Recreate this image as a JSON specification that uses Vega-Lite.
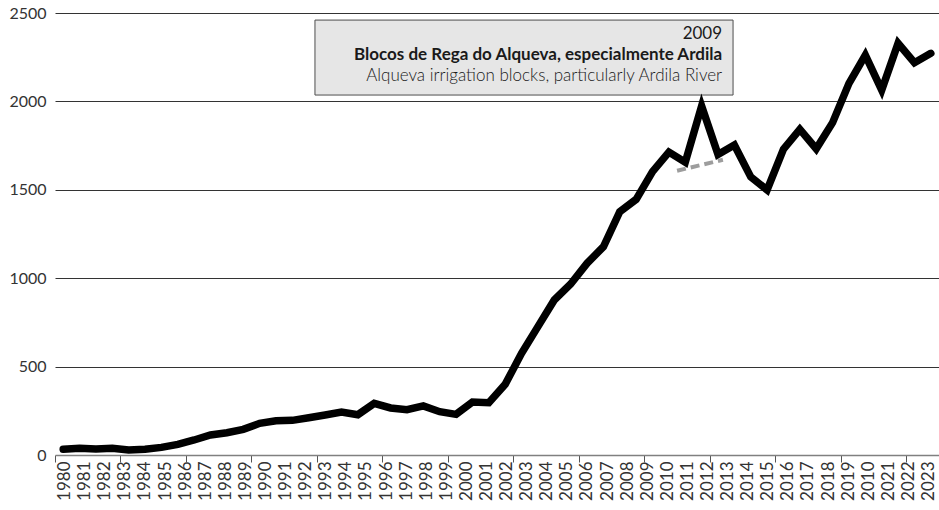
{
  "$schema": "https://vega.github.io/schema/vega-lite/v6.json",
  "width": 884,
  "height": 442,
  "autosize": {"type": "none"},
  "padding": {"left": 55, "top": 13, "right": 0, "bottom": 55},
  "background": "white",
  "config": {"view": {"stroke": null}, "font": "Lato"},
  "resolve": {"scale": {"x": "independent"}, "axis": {"x": "independent"}},
  "layer": [
    {
      "data": {"values": [
        {"year": "1980"}, {"year": "1981"}, {"year": "1982"}, {"year": "1983"}, {"year": "1984"},
        {"year": "1985"}, {"year": "1986"}, {"year": "1987"}, {"year": "1988"}, {"year": "1989"},
        {"year": "1990"}, {"year": "1991"}, {"year": "1992"}, {"year": "1993"}, {"year": "1994"},
        {"year": "1995"}, {"year": "1996"}, {"year": "1997"}, {"year": "1998"}, {"year": "1999"},
        {"year": "2000"}, {"year": "2001"}, {"year": "2002"}, {"year": "2003"}, {"year": "2004"},
        {"year": "2005"}, {"year": "2006"}, {"year": "2007"}, {"year": "2008"}, {"year": "2009"},
        {"year": "2010"}, {"year": "2011"}, {"year": "2012"}, {"year": "2013"}, {"year": "2014"},
        {"year": "2015"}, {"year": "2016"}, {"year": "2017"}, {"year": "2018"}, {"year": "2019"},
        {"year": "2020"}, {"year": "2021"}, {"year": "2022"}, {"year": "2023"}
      ]},
      "mark": {"type": "tick", "opacity": 0},
      "encoding": {
        "x": {
          "field": "year", "type": "ordinal",
          "scale": {"type": "band", "paddingInner": 0, "paddingOuter": 0},
          "axis": {
            "orient": "bottom", "title": null, "labelAngle": -90, "ticks": false, "domain": false,
            "grid": false, "labelPadding": 6, "labelFontSize": 17, "labelColor": "#333333",
            "labelOverlap": false,
            "labelExpr": "datum.value == '2020' ? '2010' : datum.label"
          }
        }
      }
    },
    {
      "layer": [
        {
          "data": {"values": [{"x": 15.38, "x2": 40.92, "y": 2460, "y2": 2036}]},
          "mark": {"type": "rect", "fill": "#e6e6e6", "stroke": "#4d4d4d", "strokeWidth": 1},
          "encoding": {
            "x": {"field": "x", "type": "quantitative"},
            "x2": {"field": "x2"},
            "y": {"field": "y", "type": "quantitative"},
            "y2": {"field": "y2"}
          }
        },
        {
          "data": {"values": [{"x": 40.25, "y": 2352, "t": "2009"}]},
          "mark": {"type": "text", "align": "right", "baseline": "alphabetic", "fontSize": 17, "color": "#1a1a1a"},
          "encoding": {
            "x": {"field": "x", "type": "quantitative"},
            "y": {"field": "y", "type": "quantitative"},
            "text": {"field": "t"}
          }
        },
        {
          "data": {"values": [{"x": 40.25, "y": 2232, "t": "Blocos de Rega do Alqueva, especialmente  Ardila"}]},
          "mark": {"type": "text", "align": "right", "baseline": "alphabetic", "fontSize": 17, "fontWeight": 700, "color": "#1a1a1a"},
          "encoding": {
            "x": {"field": "x", "type": "quantitative"},
            "y": {"field": "y", "type": "quantitative"},
            "text": {"field": "t"}
          }
        },
        {
          "data": {"values": [{"x": 40.25, "y": 2116, "t": "Alqueva irrigation blocks, particularly Ardila River"}]},
          "mark": {"type": "text", "align": "right", "baseline": "alphabetic", "fontSize": 17, "fontWeight": 300, "color": "#1a1a1a"},
          "encoding": {
            "x": {"field": "x", "type": "quantitative"},
            "y": {"field": "y", "type": "quantitative"},
            "text": {"field": "t"}
          }
        },
        {
          "data": {"values": [{"i": 37.5, "v": 1608}, {"i": 40.3, "v": 1670}]},
          "mark": {"type": "line", "color": "#9d9d9d", "strokeWidth": 4, "strokeDash": [9, 5]},
          "encoding": {
            "x": {"field": "i", "type": "quantitative"},
            "y": {"field": "v", "type": "quantitative"}
          }
        },
        {
          "data": {"values": [
            {"i": 0, "v": 32}, {"i": 1, "v": 38}, {"i": 2, "v": 34}, {"i": 3, "v": 38}, {"i": 4, "v": 28},
            {"i": 5, "v": 32}, {"i": 6, "v": 43}, {"i": 7, "v": 60}, {"i": 8, "v": 85}, {"i": 9, "v": 113},
            {"i": 10, "v": 126}, {"i": 11, "v": 145}, {"i": 12, "v": 179}, {"i": 13, "v": 194}, {"i": 14, "v": 196},
            {"i": 15, "v": 211}, {"i": 16, "v": 226}, {"i": 17, "v": 243}, {"i": 18, "v": 228}, {"i": 19, "v": 292},
            {"i": 20, "v": 266}, {"i": 21, "v": 256}, {"i": 22, "v": 278}, {"i": 23, "v": 245}, {"i": 24, "v": 230},
            {"i": 25, "v": 300}, {"i": 26, "v": 296}, {"i": 27, "v": 400}, {"i": 28, "v": 575}, {"i": 29, "v": 726},
            {"i": 30, "v": 877}, {"i": 31, "v": 967}, {"i": 32, "v": 1084}, {"i": 33, "v": 1178}, {"i": 34, "v": 1376},
            {"i": 35, "v": 1446}, {"i": 36, "v": 1603}, {"i": 37, "v": 1713}, {"i": 38, "v": 1656}, {"i": 39, "v": 1974},
            {"i": 40, "v": 1700}, {"i": 41, "v": 1753}, {"i": 42, "v": 1573}, {"i": 43, "v": 1499}, {"i": 44, "v": 1730},
            {"i": 45, "v": 1842}, {"i": 46, "v": 1732}, {"i": 47, "v": 1880}, {"i": 48, "v": 2102}, {"i": 49, "v": 2262},
            {"i": 50, "v": 2064}, {"i": 51, "v": 2329}, {"i": 52, "v": 2219}, {"i": 53, "v": 2272}
          ]},
          "mark": {"type": "line", "color": "#000000", "strokeWidth": 7.5, "strokeCap": "round", "strokeJoin": "miter"},
          "encoding": {
            "x": {
              "field": "i", "type": "quantitative",
              "scale": {"domain": [-0.5, 53.5], "nice": false, "zero": false},
              "axis": {
                "orient": "bottom", "title": null, "labels": false, "grid": false,
                "values": [-0.5, 0.5, 1.5, 2.5, 3.5, 4.5, 5.5, 6.5, 7.5, 8.5, 9.5, 10.5, 11.5, 12.5, 13.5, 14.5, 15.5, 16.5, 17.5, 18.5, 19.5, 20.5, 21.5, 22.5, 23.5, 24.5, 25.5, 26.5, 27.5, 28.5, 29.5, 30.5, 31.5, 32.5, 33.5, 34.5, 35.5, 36.5, 37.5, 38.5, 39.5, 40.5, 41.5, 42.5, 43.5, 44.5, 45.5, 46.5, 47.5, 48.5, 49.5, 50.5, 51.5, 52.5, 53.5],
                "tickSize": 7, "tickColor": "#555555", "tickWidth": 1,
                "domainColor": "#808080", "domainWidth": 1.5
              }
            },
            "y": {
              "field": "v", "type": "quantitative",
              "scale": {"domain": [0, 2500], "nice": false},
              "axis": {
                "title": null, "values": [0, 500, 1000, 1500, 2000, 2500], "format": "d",
                "ticks": false, "domain": false, "labelPadding": 9,
                "labelFontSize": 16, "labelColor": "#333333",
                "grid": true, "gridWidth": 1,
                "gridColor": {"condition": {"test": "datum.value == 0", "value": "transparent"}, "value": "#333333"}
              }
            }
          }
        }
      ]
    }
  ]
}
